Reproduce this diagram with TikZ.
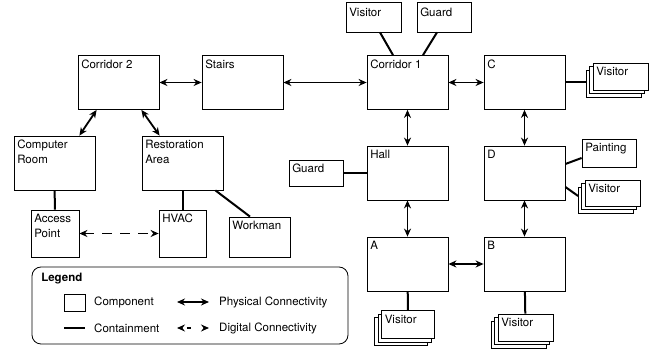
\documentclass[tikz,border=0pt]{standalone}
\usepackage{fontspec}
\setmainfont{TeX Gyre Heros}
\usetikzlibrary{arrows.meta,shadows}

\tikzset{
  comp/.style={rectangle, draw, line width=0.8pt, fill=white, minimum width=81pt, minimum height=54pt, inner sep=0pt},
  small/.style={comp, minimum width=54pt, minimum height=27pt},
  multi/.style={small, minimum width=55pt, double copy shadow={shadow xshift=-3.5pt, shadow yshift=-3.5pt}},
  tag/.style={anchor=north west, inner sep=0pt, xshift=3.5pt, yshift=-4.5pt, align=left},
  phys/.style={line width=1.8pt, {Stealth[length=8pt,width=7pt]}-{Stealth[length=8pt,width=7pt]}},
  digi/.style={phys, dash pattern=on 10pt off 8pt},
  contain/.style={line width=2pt},
}

\begin{document}
\begin{tikzpicture}[x=1pt, y=-1pt, font=\fontsize{11.5}{14.5}\selectfont]
\useasboundingbox (0,0) rectangle (657,352);

% rooms
\node at (118.5,82.5) [comp, label={[tag]north west:Corridor 2}] (cortwo) {};
\node at (242.5,82.5) [comp, label={[tag]north west:Stairs}] (stairs) {};
\node at (407.5,82.5) [comp, label={[tag]north west:Corridor 1}] (corone) {};
\node at (524.5,82.5) [comp, label={[tag]north west:C}] (roomc) {};
\node at (54.5,163) [comp, label={[tag]north west:Computer\\Room}] (comproom) {};
\node at (182.5,163) [comp, label={[tag]north west:Restoration\\Area}] (restarea) {};
\node at (407.5,173) [comp, label={[tag]north west:Hall}] (hall) {};
\node at (524.5,173) [comp, label={[tag]north west:D}] (roomd) {};
\node at (407.5,264) [comp, label={[tag]north west:A}] (rooma) {};
\node at (524.5,264) [comp, label={[tag]north west:B}] (roomb) {};

% small components
\node at (373.5,17) [small, minimum width=55pt, minimum height=30pt, label={[tag, yshift=-2pt]north west:Visitor}] (visitortop) {};
\node at (444,17) [small, minimum height=30pt, label={[tag, yshift=-2pt]north west:Guard}] (guardtop) {};
\node at (316,173) [small, minimum height=26pt, label={[tag]north west:Guard}] (guardhall) {};
\node at (609,153) [small, minimum height=28pt, label={[tag]north west:Painting}] (painting) {};
\node at (55,233.5) [small, minimum width=48pt, minimum height=47pt, label={[tag]north west:Access\\Point}] (accpoint) {};
\node at (182.5,233.5) [small, minimum width=47pt, minimum height=47pt, label={[tag]north west:HVAC}] (hvac) {};
\node at (259.5,237) [small, minimum width=61pt, minimum height=40pt, label={[tag]north west:Workman}] (workman) {};

% visitor groups
\node at (620.5,76.5) [multi, label={[tag]north west:Visitor}] (visitorc) {};
\node at (612.5,193) [multi, minimum height=26pt, label={[tag]north west:Visitor}] (visitord) {};
\node at (408,324.5) [multi, minimum width=53pt, minimum height=28pt, label={[tag]north west:Visitor}] (visitora) {};
\node at (525.5,327.5) [multi, label={[tag]north west:Visitor}] (visitorb) {};

% physical connectivity
\draw[phys] (cortwo) -- (stairs);
\draw[phys] (stairs) -- (corone);
\draw[phys] (corone) -- (roomc);
\draw[phys] ([xshift=19pt]cortwo.south west) -- ([xshift=-16pt]comproom.north east);
\draw[phys] ([xshift=-18pt]cortwo.south east) -- ([xshift=18pt]restarea.north west);
\draw[phys] (corone) -- (hall);
\draw[phys] (roomc) -- (roomd);
\draw[phys] (hall) -- (rooma);
\draw[phys] (roomd) -- (roomb);
\draw[phys] (rooma) -- (roomb);

% digital connectivity
\draw[digi] (accpoint) -- (hvac);

% containment
\draw[contain] ([xshift=6.5pt]visitortop.south) -- ([xshift=-14.5pt]corone.north);
\draw[contain] ([xshift=-7pt]guardtop.south) -- ([xshift=15.5pt]corone.north);
\draw[contain] (roomc.east) -- ([xshift=-7pt,yshift=-6pt]visitorc.west);
\draw[contain] ([yshift=9pt]roomd.east) -- ([yshift=-5pt]painting.west);
\draw[contain] ([yshift=-14pt]roomd.east) -- ([xshift=-6.5pt,yshift=-3pt]visitord.west);
\draw[contain] (guardhall) -- (hall);
\draw[contain] (comproom) -- (accpoint);
\draw[contain] (restarea) -- (hvac);
\draw[contain] ([xshift=-8pt]restarea.south east) -- ([xshift=-9.5pt]workman.north);
\draw[contain] (rooma) -- (visitora);
\draw[contain] (roomb) -- (visitorb);

% legend
\node at (190,305.5) [rectangle, draw, line width=0.8pt, rounded corners=9pt, minimum width=316pt, minimum height=77pt, label={[tag, xshift=6pt, yshift=-2pt]north west:\textbf{Legend}}] (legend) {};
\node at (74.5,302.5) [comp, minimum width=21pt, minimum height=17pt] (lgbox) {};
\node at (94,302) [anchor=west, inner sep=0pt] (lgcomp) {Component};
\coordinate (lgcona) at (64,328);
\coordinate (lgconb) at (85,328);
\draw[contain] (lgcona) -- (lgconb);
\node at (94,328) [anchor=west, inner sep=0pt] (lgcont) {Containment};
\coordinate (lgphya) at (177,302);
\coordinate (lgphyb) at (209,302);
\draw[phys] (lgphya) -- (lgphyb);
\node at (219,302) [anchor=west, inner sep=0pt] (lgphys) {Physical Connectivity};
\coordinate (lgdiga) at (177,328);
\coordinate (lgdigb) at (209,328);
\draw[phys, dash pattern=on 0pt off 5pt on 4pt off 20pt] (lgdiga) -- (lgdigb);
\node at (219,328) [anchor=west, inner sep=0pt] (lgdigi) {Digital Connectivity};
\end{tikzpicture}
\end{document}
